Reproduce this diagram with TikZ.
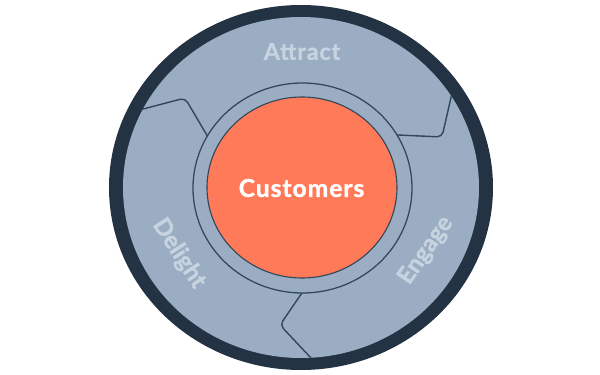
\documentclass[tikz,border=0pt]{standalone}
\usepackage{fontspec}
\setsansfont{Lato}
\newfontfamily\flyfont[LetterSpace=4, BoldFeatures={FakeBold=1.3}]{Lato}
\newfontfamily\flyplain[BoldFeatures={FakeBold=1.3}]{Lato}
\usetikzlibrary{positioning}

\definecolor{flyDark}{HTML}{243343}
\definecolor{flyBlue}{HTML}{9AADC3}
\definecolor{flyLine}{HTML}{33475B}
\definecolor{flyOrange}{HTML}{FF7A59}
\definecolor{flyText}{HTML}{C8D3E0}

\begin{document}
\begin{tikzpicture}[x=0.025cm, y=0.025cm,
			divider/.style={draw=flyLine, line width=1pt, rounded corners=3.5pt},
			hub/.style={draw=flyLine, line width=0.9pt, fill=flyBlue},
			core/.style={draw=flyLine, line width=0.8pt, fill=flyOrange},
			stage/.style={font=\flyfont\bfseries\fontsize{16.5}{18}\selectfont, text=flyText, inner sep=0pt},
			sidestage/.style={font=\flyplain\bfseries\fontsize{17}{18}\selectfont, text=flyText, inner sep=0pt},
			corelabel/.style={font=\flyfont\bfseries\fontsize{17.5}{20}\selectfont, text=white, inner sep=0pt},
		]
		\useasboundingbox (-301,-187.5) rectangle (299,187.5);

		% --- Anello esterno ---
		\fill [flyDark] (0,0) ellipse [x radius=192, y radius=182.5];
		\fill [flyBlue] (0,0) ellipse [x radius=178, y radius=170.5];

		% --- Separatori tra le fasi ---
		\coordinate (tlA) at (-175,74);   \coordinate (tlB) at (-116,89.5); \coordinate (tlC) at (-88,42);
		\coordinate (trA) at (155,112);   \coordinate (trB) at (141,50.5);  \coordinate (trC) at (86,53);
		\coordinate (btA) at (6,-98);     \coordinate (btB) at (-21,-137.5); \coordinate (btC) at (18,-179);
		\begin{scope}
			\clip (0,0) ellipse [x radius=178, y radius=170.5];
			\draw [divider] (tlA) -- (tlB) -- (tlC);
			\draw [divider] (trA) -- (trB) -- (trC);
			\draw [divider] (btA) -- (btB) -- (btC);
		\end{scope}

		% --- Centro ---
		\draw [hub]  (1.5,-0.5) ellipse [x radius=109.5, y radius=105];
		\draw [core] (1,0) ellipse [x radius=95, y radius=90.5];

		% --- Etichette ---
		\node (customers) [corelabel] at (0.5,-0.5) {Customers};
		\node (attract)   [stage] at (1,136) {Attract};
		\node (delight)   [sidestage, rotate=-57] at (-122,-66) {Delight};
		\node (engage)    [sidestage, rotate=55]  at (125,-63) {Engage};

	\end{tikzpicture}
\end{document}
